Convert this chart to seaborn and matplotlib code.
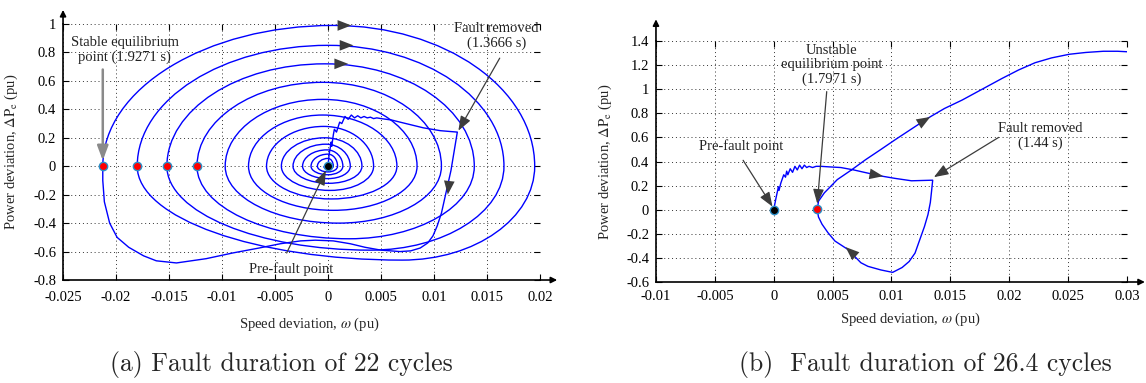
import numpy as np
import matplotlib
matplotlib.use("Agg")
import matplotlib.pyplot as plt
import seaborn as sns
from matplotlib.path import Path
from matplotlib.patches import PathPatch

# ---- data ----
# (a) fault-on trajectory + first swing after clearing (speed dev, power dev)
fault_a_w = [0, 0.0001, 0.0003, 0.00035, 0.0005, 0.0006, 0.0008, 0.0011, 0.0013, 0.0016, 0.0019,
             0.0022, 0.0025, 0.0028, 0.0031, 0.0034, 0.0037, 0.004, 0.0043, 0.0046, 0.005, 0.0055,
             0.006, 0.0068, 0.0079, 0.009, 0.0106, 0.0122,
             0.0120, 0.0118, 0.0116, 0.0113, 0.0110, 0.0107, 0.0103, 0.0099, 0.0094, 0.0087, 0.0078,
             0.0068, 0.0050, 0.0035, 0.0021, 0.0005, -0.0012, -0.0026, -0.0045, -0.0065, -0.009,
             -0.0115, -0.0143, -0.0162, -0.0174, -0.0188, -0.0199, -0.0206, -0.0211, -0.02125, -0.02125]
fault_a_p = [0, 0.08, 0.17, 0.14, 0.22, 0.26, 0.24, 0.31, 0.30, 0.35, 0.33,
             0.36, 0.34, 0.355, 0.34, 0.35, 0.34, 0.345, 0.335, 0.34, 0.335, 0.33,
             0.325, 0.31, 0.29, 0.27, 0.25, 0.24,
             0.15, 0.06, -0.03, -0.13, -0.23, -0.33, -0.42, -0.49, -0.54, -0.575, -0.595,
             -0.60, -0.59, -0.57, -0.545, -0.525, -0.52, -0.525, -0.545, -0.575, -0.61,
             -0.65, -0.68, -0.665, -0.63, -0.57, -0.50, -0.40, -0.25, -0.1, 0.0]

# (a) decaying swings: turning points of each loop
loop_left = [-0.02125, -0.0180, -0.0152, -0.01236, -0.0097, -0.0075, -0.0058, -0.0044,
             -0.0033, -0.0024, -0.0016, -0.0010]
loop_top_w = [0.0005, 0.0, -0.0003, -0.0005, -0.0005, -0.0005, -0.0004, -0.0003,
              -0.0002, -0.0001, 0.0, 0.0]
loop_top = [0.99, 0.85, 0.72, 0.59, 0.47, 0.36, 0.28, 0.20, 0.155, 0.115, 0.085, 0.055]
loop_right = [0.0195, 0.0166, 0.0138, 0.0107, 0.0084, 0.0065, 0.0043, 0.0032, 0.0021,
              0.0014, 0.0009, 0.0005]
loop_bot_w = [0.007, 0.004, 0.002, 0.001, 0.0005, 0.0003, 0.0002, 0.0001, 0.0, 0.0, 0.0, 0.0]
loop_bot = [-0.66, -0.59, -0.51, -0.40, -0.31, -0.23, -0.17, -0.12, -0.087, -0.06, -0.04, -0.02]
loop_end = -0.0004
stable_w = [-0.02125, -0.0180, -0.0152, -0.01236]

# (b) trajectory
traj_b_w = [0, 0.0002, 0.0004, 0.00045, 0.0006, 0.00085, 0.0010, 0.0011, 0.0012, 0.0014, 0.0016,
            0.0018, 0.0020, 0.0022, 0.0024, 0.0026, 0.0028, 0.0030, 0.0033, 0.0036, 0.0040, 0.0048,
            0.0057, 0.0068, 0.0077, 0.0091, 0.0103, 0.0117, 0.0135,
            0.0134, 0.0133, 0.0131, 0.0128, 0.0124, 0.0120, 0.0115, 0.0109, 0.0101, 0.0091, 0.0080,
            0.0074, 0.0063, 0.0052, 0.0046, 0.0041, 0.0038, 0.0037, 0.0038, 0.0043, 0.0054, 0.0066,
            0.0078, 0.0091, 0.0103, 0.0117, 0.0131, 0.0145, 0.016, 0.0177, 0.0194, 0.0208, 0.0222,
            0.0236, 0.0251, 0.0265, 0.028, 0.0292, 0.0302]
traj_b_p = [0, 0.1, 0.19, 0.16, 0.22, 0.29, 0.27, 0.32, 0.29, 0.34, 0.31,
            0.36, 0.33, 0.37, 0.34, 0.37, 0.35, 0.36, 0.35, 0.36, 0.36, 0.355,
            0.35, 0.33, 0.31, 0.28, 0.26, 0.24, 0.245,
            0.15, 0.06, -0.04, -0.14, -0.25, -0.36, -0.43, -0.48, -0.52, -0.50, -0.47,
            -0.44, -0.33, -0.26, -0.19, -0.12, -0.06, 0.0, 0.07, 0.14, 0.25, 0.33,
            0.415, 0.50, 0.58, 0.67, 0.76, 0.84, 0.91, 1.00, 1.09, 1.16, 1.22,
            1.26, 1.29, 1.305, 1.315, 1.315, 1.31]
unstable_w = [0.0037]

xticks_a = [-0.025, -0.02, -0.015, -0.01, -0.005, 0, 0.005, 0.01, 0.015, 0.02]
xlabels_a = ['-0.025', '-0.02', '-0.015', '-0.01', '-0.005', '0', '0.005', '0.01', '0.015', '0.02']
yticks_a = [-0.8, -0.6, -0.4, -0.2, 0, 0.2, 0.4, 0.6, 0.8, 1]
ylabels_a = ['-0.8', '-0.6', '-0.4', '-0.2', '0', '0.2', '0.4', '0.6', '0.8', '1']
xticks_b = [-0.01, -0.005, 0, 0.005, 0.01, 0.015, 0.02, 0.025, 0.03]
xlabels_b = ['-0.01', '-0.005', '0', '0.005', '0.01', '0.015', '0.02', '0.025', '0.03']
yticks_b = [-0.6, -0.4, -0.2, 0, 0.2, 0.4, 0.6, 0.8, 1, 1.2, 1.4]
ylabels_b = ['-0.6', '-0.4', '-0.2', '0', '0.2', '0.4', '0.6', '0.8', '1', '1.2', '1.4']

# ---- style ----
sns.set_theme(style="ticks")
plt.rcParams['font.family'] = ['Liberation Serif', 'DejaVu Serif']
plt.rcParams['mathtext.fontset'] = 'stix'
plt.rcParams['axes.unicode_minus'] = False

BLUE = '#0000ff'
DARK = '#3c3c3c'
FS = 10.5

fig = plt.figure(figsize=(11.46, 3.83), dpi=100)
ax1 = fig.add_axes([0.055, 0.2689, 0.4162, 0.6684])
ax2 = fig.add_axes([0.5724, 0.2637, 0.411, 0.6292])


def style_axes(ax, xt, xl, yt, yl, xpad, ypad, ytip, xtip):
    ax.set_xticks(xt)
    ax.set_xticklabels(xl)
    ax.set_yticks(yt)
    ax.set_yticklabels(yl)
    ax.set_xlim(xt[0], xt[-1])
    ax.set_ylim(yt[0], yt[-1])
    ax.grid(True, linestyle=(0, (1, 3)), color='#333333', lw=0.7)
    ax.tick_params(direction='in', top=True, right=True, length=4, width=0.8,
                   labelsize=FS, colors='black')
    ax.tick_params(axis='x', pad=xpad)
    ax.tick_params(axis='y', pad=ypad)
    for s in ['top', 'right']:
        ax.spines[s].set_visible(False)
    for s in ['left', 'bottom']:
        ax.spines[s].set_linewidth(1.2)
        ax.spines[s].set_color('black')
    # gnuplot-like axis arrows
    ax.annotate('', xy=(0, 1 + ytip), xytext=(0, 1), xycoords='axes fraction',
                arrowprops=dict(arrowstyle='-|>', color='black', lw=1.2, shrinkA=0, shrinkB=0,
                                mutation_scale=9), annotation_clip=False)
    ax.annotate('', xy=(1 + xtip, 0), xytext=(1, 0), xycoords='axes fraction',
                arrowprops=dict(arrowstyle='-|>', color='black', lw=1.2, shrinkA=0, shrinkB=0,
                                mutation_scale=9), annotation_clip=False)
    ax.set_xlabel(r'Speed deviation, $\omega$ (pu)', fontsize=FS)
    ax.set_ylabel(r'Power deviation, $\Delta\mathrm{P_e}$ (pu)', fontsize=FS)


def head(ax, tip, tail):
    ax.annotate('', xy=tip, xytext=tail,
                arrowprops=dict(arrowstyle='-|>,head_length=0.9,head_width=0.35', color=DARK,
                                lw=0, shrinkA=0, shrinkB=0, mutation_scale=11), zorder=6)


def note(ax, text, txy, tail, tip, color=DARK, lw=0.9):
    ax.text(txy[0], txy[1], text, ha='center', va='center', fontsize=FS,
            linespacing=1.15, color='#222222', zorder=7)
    ax.annotate('', xy=tip, xytext=tail,
                arrowprops=dict(arrowstyle='-|>,head_length=0.8,head_width=0.3', color=color,
                                lw=lw, shrinkA=0, shrinkB=0, mutation_scale=11), zorder=7)


# ---- (a) ----
sns.lineplot(x=fault_a_w, y=fault_a_p, sort=False, estimator=None, color=BLUE, lw=1.0, ax=ax1)

K = 0.5523
turns = []
for i in range(len(loop_left)):
    turns += [((loop_left[i], 0.0), 'v'), ((loop_top_w[i], loop_top[i]), 'h'),
              ((loop_right[i], 0.0), 'v'), ((loop_bot_w[i], loop_bot[i]), 'h')]
turns.append(((loop_end, 0.0), 'v'))
verts = [turns[0][0]]
codes = [Path.MOVETO]
for (p0, t0), (p1, _) in zip(turns[:-1], turns[1:]):
    if t0 == 'v':
        c1 = (p0[0], p0[1] + K * (p1[1] - p0[1]))
        c2 = (p1[0] + K * (p0[0] - p1[0]), p1[1])
    else:
        c1 = (p0[0] + K * (p1[0] - p0[0]), p0[1])
        c2 = (p1[0], p1[1] + K * (p0[1] - p1[1]))
    verts += [c1, c2, p1]
    codes += [Path.CURVE4] * 3
ax1.add_patch(PathPatch(Path(verts, codes), fill=False, edgecolor=BLUE, lw=1.0, zorder=3))

sns.scatterplot(x=stable_w, y=[0.005] * len(stable_w), color='#ff0000', edgecolor='#2a8fc8',
                linewidth=1.0, s=36, zorder=8, ax=ax1)
sns.scatterplot(x=[0], y=[0], color='black', edgecolor='#2a8fc8', linewidth=1.0, s=36,
                zorder=8, ax=ax1)

for tx, ty in [(0.0022, 0.99), (0.0024, 0.85), (0.0019, 0.72)]:
    head(ax1, (tx, ty), (tx - 0.001, ty))
head(ax1, (0.0113, -0.20), (0.01145, -0.10))

note(ax1, 'Stable equilibrium\npoint (1.9271 s)', (-0.0192, 0.82),
     (-0.02125, 0.68), (-0.02125, 0.04), color='#8a8a8a', lw=1.8)
note(ax1, 'Fault removed\n(1.3666 s)', (0.0159, 0.915), (0.0162, 0.76), (0.0123, 0.25))
note(ax1, 'Pre-fault point', (-0.0035, -0.72), (-0.0039, -0.61), (-0.0002, -0.03))

style_axes(ax1, xticks_a, xlabels_a, yticks_a, ylabels_a, 8, 5, 0.055, 0.036)
ax1.xaxis.set_label_coords(0.516, -0.14)
ax1.yaxis.set_label_coords(-0.09, 0.5)

# ---- (b) ----
sns.lineplot(x=traj_b_w, y=traj_b_p, sort=False, estimator=None, color=BLUE, lw=1.0, ax=ax2)
sns.scatterplot(x=unstable_w, y=[0.01], color='#ff0000', edgecolor='#2a8fc8', linewidth=1.0,
                s=36, zorder=8, ax=ax2)
sns.scatterplot(x=[0], y=[0], color='black', edgecolor='#2a8fc8', linewidth=1.0, s=36,
                zorder=8, ax=ax2)

head(ax2, (0.0093, 0.278), (0.0080, 0.30))
head(ax2, (0.0133, 0.77), (0.0121, 0.70))
head(ax2, (0.0061, -0.31), (0.0069, -0.38))

note(ax2, 'Pre-fault point', (-0.0028, 0.53), (-0.0026, 0.41), (-0.0001, 0.025))
note(ax2, 'Unstable\nequilibrium point\n(1.7971 s)', (0.0049, 1.20), (0.0045, 0.98),
     (0.0037, 0.05))
note(ax2, 'Fault removed\n(1.44 s)', (0.0226, 0.61), (0.0191, 0.60), (0.0136, 0.27))

style_axes(ax2, xticks_b, xlabels_b, yticks_b, ylabels_b, 6, 5, 0.09, 0.038)
ax2.xaxis.set_label_coords(0.539, -0.12)
ax2.yaxis.set_label_coords(-0.089, 0.5)

# ---- captions ----
fig.text(281 / 1146, 1 - 365 / 383, '(a) Fault duration of 22 cycles', family='cmr10',
         fontsize=18.5, ha='center', va='center')
fig.text(925 / 1146, 1 - 365 / 383, '(b)  Fault duration of 26.4 cycles', family='cmr10',
         fontsize=18.5, ha='center', va='center')

fig.savefig('out.png', dpi=100)
